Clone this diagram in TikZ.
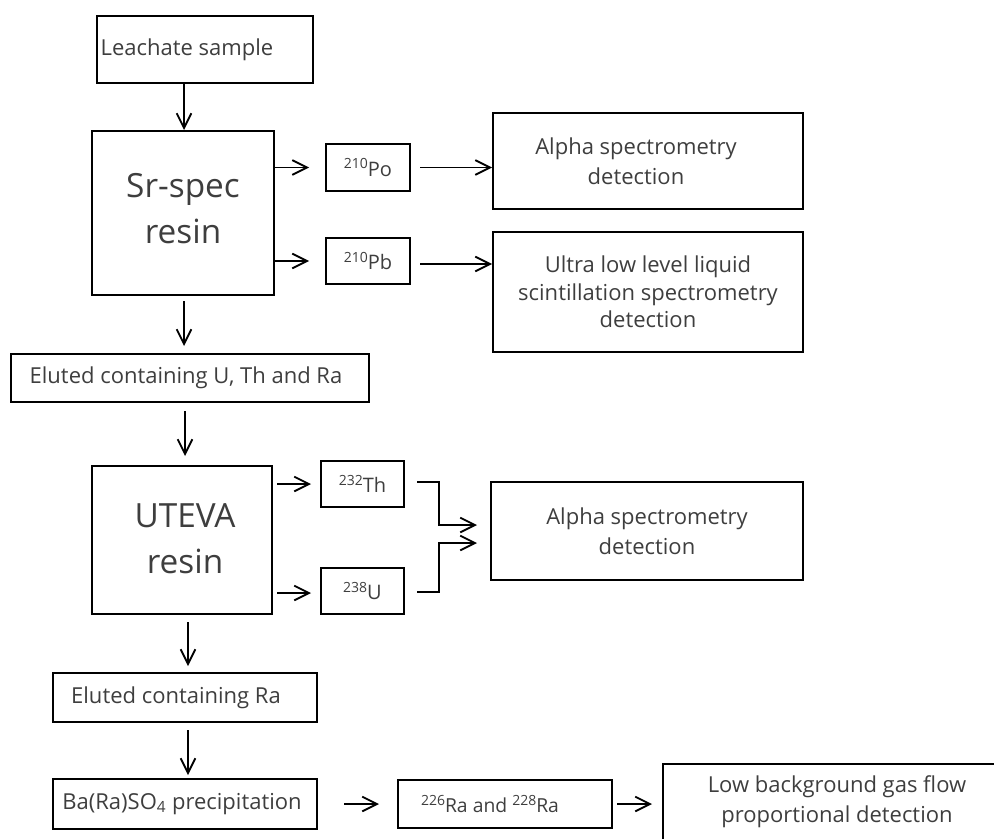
\documentclass[tikz,border=0pt]{standalone}
\usepackage{fontspec}
\setmainfont{Open Sans}
\usetikzlibrary{arrows.meta}
\newdimen\px \px=0.75pt
\definecolor{txt}{RGB}{62,62,62}
\newcommand{\isup}[1]{\raisebox{0.38em}{\fontsize{10.5}{12}\selectfont #1}}
\tikzset{
  box/.style={draw, line width=1.5pt, inner sep=0pt},
  lbl/.style={text=txt, align=center, inner sep=0pt, font=\fontsize{16.5}{22.5}\selectfont},
  big/.style={lbl, font=\fontsize{25}{34.5}\selectfont},
  iso/.style={lbl, font=\fontsize{15}{18}\selectfont},
  arr/.style={line width=1.4pt, -{Straight Barb[length=11pt,width=11pt]}},
}
\begin{document}
\begin{tikzpicture}[x=0.75pt,y=-0.75pt]
\useasboundingbox (0,0) rectangle (994,838);
\clip (0,0) rectangle (994,838);

% nodes
\node[box, minimum width=216\px, minimum height=67\px,
  label={[lbl, xshift=-18\px]center:Leachate sample}] (leach) at (205,49.5) {};
\node[box, minimum width=182\px, minimum height=164\px,
  label={[big, yshift=4\px]center:Sr-spec\\resin}] (srspec) at (183,213) {};
\node[box, minimum width=84\px, minimum height=47\px,
  label={[iso]center:\isup{210}Po}] (po) at (368,167.5) {};
\node[box, minimum width=84\px, minimum height=46\px,
  label={[iso]center:\isup{210}Pb}] (pb) at (368,261) {};
\node[box, minimum width=310\px, minimum height=96\px,
  label={[lbl, xshift=-12\px]center:Alpha spectrometry\\detection}] (alpha1) at (648,161) {};
\node[box, minimum width=310\px, minimum height=120\px,
  label={[lbl, font=\fontsize{16.5}{20.5}\selectfont]center:Ultra low level liquid\\scintillation spectrometry\\detection}] (ulls) at (648,292) {};
\node[box, minimum width=358\px, minimum height=48\px,
  label={[lbl, xshift=-4\px]center:Eluted containing U, Th and Ra}] (elu1) at (190,378) {};
\node[box, minimum width=180\px, minimum height=148\px,
  label={[big, xshift=3\px, yshift=1\px]center:UTEVA\\resin}] (uteva) at (182,540) {};
\node[box, minimum width=83\px, minimum height=46\px,
  label={[iso]center:\isup{232}Th}] (th) at (362.5,484) {};
\node[box, minimum width=83\px, minimum height=46\px,
  label={[iso]center:\isup{238}U}] (u) at (362.5,591) {};
\node[box, minimum width=312\px, minimum height=98\px,
  label={[lbl]center:Alpha spectrometry\\detection}] (alpha2) at (647,531) {};
\node[box, minimum width=264\px, minimum height=49\px,
  label={[lbl, xshift=-9\px]center:Eluted containing Ra}] (elu2) at (185,697.5) {};
\node[box, minimum width=264\px, minimum height=50\px,
  label={[lbl, xshift=-3\px]center:Ba(Ra)SO\textsubscript{4} precipitation}] (ba) at (185,804) {};
\node[box, minimum width=214\px, minimum height=48\px,
  label={[lbl, font=\fontsize{14.5}{18}\selectfont, xshift=-15\px]center:\isup{226}Ra and \isup{228}Ra}] (ra) at (505,804) {};
\node[box, minimum width=348\px, minimum height=76\px,
  label={[lbl]center:Low background gas flow\\proportional detection}] (low) at (837,802) {};

% connectors (xshift/yshift are canvas shifts: positive yshift moves up)
\draw[arr] ([xshift=-21\px]leach.south) -- ([xshift=1\px]srspec.north);
\draw[arr] (srspec.east |- po) -- ([xshift=-16\px]po.west);
\draw[arr] (srspec.east |- pb) -- ([xshift=-16\px]pb.west);
\draw[arr] ([xshift=9\px]po.east) -- (po -| alpha1.west);
\draw[arr] ([xshift=9\px,yshift=-3\px]pb.east) -- ([yshift=-3\px]pb -| ulls.west);
\draw[arr] ([xshift=1\px,yshift=-5\px]srspec.south) -- ([xshift=-6\px,yshift=7\px]elu1.north);
\draw[arr] ([xshift=-5\px,yshift=-8\px]elu1.south) -- ([xshift=3\px,yshift=9\px]uteva.north);
\draw[arr] ([xshift=4\px]uteva.east |- th) -- ([xshift=-9\px]th.west);
\draw[arr] ([xshift=4\px,yshift=-2\px]uteva.east |- u) -- ([xshift=-9\px,yshift=-2\px]u.west);
\draw[arr] ([xshift=12\px,yshift=2\px]th.east) -| ([xshift=-51\px,yshift=6\px]alpha2.west)
  -- ([xshift=-13\px,yshift=6\px]alpha2.west);
\draw[arr] ([xshift=12\px,yshift=-1\px]u.east) -| ([xshift=-51\px,yshift=-12\px]alpha2.west)
  -- ([xshift=-13\px,yshift=-12\px]alpha2.west);
\draw[arr] ([xshift=6\px,yshift=-7\px]uteva.south) -- ([xshift=3\px,yshift=6\px]elu2.north);
\draw[arr] ([xshift=3\px,yshift=-7\px]elu2.south) -- ([xshift=3\px,yshift=3\px]ba.north);
\draw[arr] ([xshift=26\px]ba.east) -- ([xshift=-18\px]ra.west);
\draw[arr] ([xshift=4\px]ra.east) -- ([xshift=-10\px]low.west |- ra);
\end{tikzpicture}
\end{document}
